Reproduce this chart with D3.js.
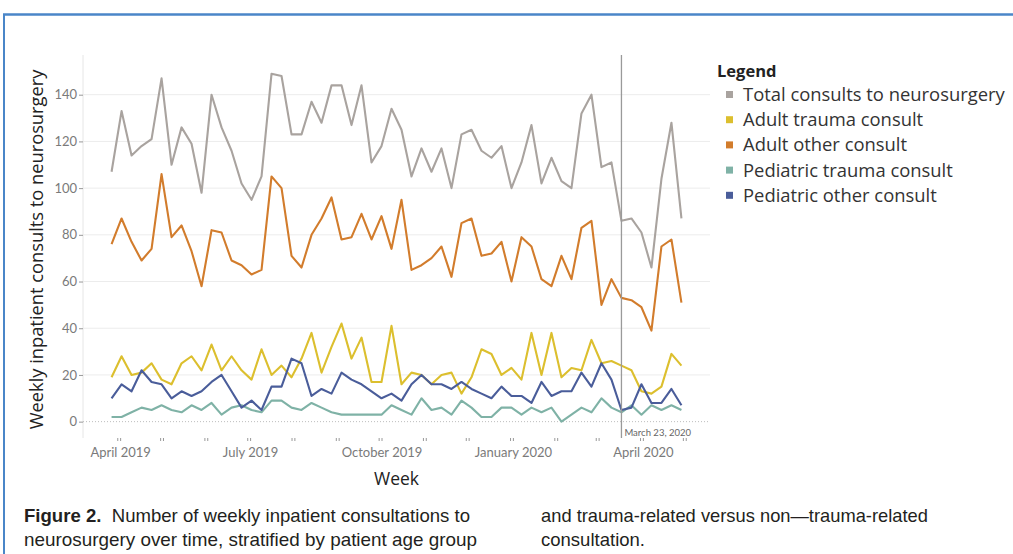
<!DOCTYPE html>
<html>
<head>
<meta charset="utf-8">
<script src="https://cdn.jsdelivr.net/npm/d3@7"></script>
<style>
  body { margin: 0; background: #fff; }
  svg { display: block; }
</style>
</head>
<body>
<div id="chart"></div>
<script>
// weekly consults, weeks starting Monday 1 April 2019
const firstWeek = new Date(2019, 3, 1);
const total       = [107,133,114,118,121,147,110,126,119,98,140,126,116,102,95,105,149,148,123,123,137,128,144,144,127,144,111,118,134,125,105,117,107,117,100,123,125,116,113,118,100,111,127,102,113,103,100,132,140,109,111,86,87,81,66,104,128,87];
const adultTrauma = [19,28,20,21,25,18,16,25,28,22,33,22,28,22,18,31,20,24,19,27,38,21,32,42,27,36,17,17,41,16,21,20,16,20,21,12,19,31,29,20,23,18,38,20,38,19,23,22,35,25,26,24,22,13,12,15,29,24];
const adultOther  = [76,87,77,69,74,106,79,84,73,58,82,81,69,67,63,65,105,100,71,66,80,87,96,78,79,89,78,88,74,95,65,67,70,75,62,85,87,71,72,77,60,79,75,61,58,71,61,83,86,50,61,53,52,49,39,75,78,51];
const pedTrauma   = [2,2,4,6,5,7,5,4,7,5,8,3,6,7,5,4,9,9,6,5,8,6,4,3,3,3,3,3,7,5,3,10,5,6,3,9,6,2,2,6,6,3,6,4,6,0,3,6,4,10,6,4,7,3,7,5,7,5];
const pedOther    = [10,16,13,22,17,16,10,13,11,13,17,20,13,6,9,5,15,15,27,25,11,14,12,21,18,16,13,10,12,9,16,20,16,16,14,17,14,12,10,15,11,11,8,17,11,13,13,21,15,25,18,5,6,16,8,8,14,7];

const seriesNames  = ["Total consults to neurosurgery", "Adult trauma consult", "Adult other consult", "Pediatric trauma consult", "Pediatric other consult"];
const seriesColors = ["#a9a39f", "#dcbf2e", "#d27c2c", "#7fb2a6", "#4a5d9a"];
const yTicks = [0, 20, 40, 60, 80, 100, 120, 140];
const lockdownDate = new Date(2020, 2, 23);
const lockdownLabel = "March 23, 2020";

const weeks = total.map((_, i) => d3.timeDay.offset(firstWeek, 7 * i));
const seriesValues = [total, adultTrauma, adultOther, pedTrauma, pedOther];

const W = 1013, H = 554;
const plot = { left: 83, right: 710, top: 55, bottom: 438 };
const font = "Lato, 'Open Sans', sans-serif";
const titleFont = "'Open Sans', Lato, sans-serif";

const svg = d3.select("#chart").append("svg")
    .attr("width", W)
    .attr("height", H)
    .style("background", "#fff");

// figure frame (blue rule top and left)
svg.append("line").attr("x1", 3).attr("x2", W).attr("y1", 14.5).attr("y2", 14.5)
    .attr("stroke", "#4a86c8").attr("stroke-width", 2.5);
svg.append("line").attr("x1", 4).attr("x2", 4).attr("y1", 14).attr("y2", H)
    .attr("stroke", "#4a86c8").attr("stroke-width", 2);

const x = d3.scaleTime()
    .domain([new Date(2019, 2, 12), new Date(2020, 4, 24)])
    .range([plot.left, plot.right]);

const y = d3.scaleLinear()
    .domain([-7, 157])
    .range([plot.bottom, plot.top]);

// plot frame
svg.append("line").attr("x1", plot.left).attr("x2", plot.left)
    .attr("y1", plot.top).attr("y2", plot.bottom)
    .attr("stroke", "#e6e6e6");

// gridlines
svg.append("g")
    .selectAll("line")
    .data(yTicks.filter(d => d !== 0))
    .enter()
    .append("line")
    .attr("x1", plot.left).attr("x2", plot.right)
    .attr("y1", d => y(d)).attr("y2", d => y(d))
    .attr("stroke", "#ececec");

svg.append("line")
    .attr("x1", plot.left).attr("x2", plot.right)
    .attr("y1", y(0)).attr("y2", y(0))
    .attr("stroke", "#bdbdbd")
    .attr("stroke-dasharray", "1,2");

// y axis
const yAxis = svg.append("g")
    .attr("transform", `translate(${plot.left},0)`)
    .call(d3.axisLeft(y).tickValues(yTicks).tickSize(4).tickPadding(2));
yAxis.select(".domain").remove();
yAxis.selectAll(".tick line").attr("stroke", "#999");
yAxis.selectAll("text")
    .style("font-family", font)
    .style("font-size", "13px")
    .attr("fill", "#7a7a7a");

svg.append("text")
    .attr("transform", `translate(43,${(plot.top + plot.bottom) / 2 + 3}) rotate(-90)`)
    .attr("text-anchor", "middle")
    .style("font-family", titleFont)
    .style("font-size", "18.3px")
    .attr("fill", "#222")
    .text("Weekly inpatient consults to neurosurgery");

// x axis: monthly tick pairs, label every quarter
const months = d3.timeMonth.range(new Date(2019, 3, 1), new Date(2020, 5, 1));
const xTickA = svg.append("g")
    .attr("transform", `translate(0,${plot.bottom})`)
    .call(d3.axisBottom(x).tickValues(months.map(d => d3.timeDay.offset(d, 4))).tickSize(3).tickFormat(""));
xTickA.select(".domain").remove();
const xAxis = svg.append("g")
    .attr("transform", `translate(0,${plot.bottom})`)
    .call(d3.axisBottom(x)
        .tickValues(months.map(d => d3.timeDay.offset(d, 6)))
        .tickSize(3)
        .tickPadding(7)
        .tickFormat(d => [3, 6, 9, 0].includes(d.getMonth()) ? d3.timeFormat("%B %Y")(d) : ""));
xAxis.select(".domain").remove();
svg.selectAll(".tick line").attr("stroke", "#999");
xAxis.selectAll("text")
    .style("font-family", font)
    .style("font-size", "13px")
    .attr("fill", "#7a7a7a");

svg.append("text")
    .attr("x", (plot.left + plot.right) / 2)
    .attr("y", 485)
    .attr("text-anchor", "middle")
    .style("font-family", titleFont)
    .style("font-size", "17.5px")
    .attr("fill", "#222")
    .text("Week");

// lines
const line = d3.line()
    .x((d, i) => x(weeks[i]))
    .y(d => y(d));

svg.append("g")
    .selectAll("path")
    .data(seriesValues)
    .enter()
    .append("path")
    .attr("d", d => line(d))
    .attr("fill", "none")
    .attr("stroke", (d, i) => seriesColors[i])
    .attr("stroke-width", 2.1)
    .attr("stroke-linejoin", "round");

// reference line
svg.append("line")
    .attr("x1", x(lockdownDate)).attr("x2", x(lockdownDate))
    .attr("y1", plot.top).attr("y2", plot.bottom)
    .attr("stroke", "#9a9a9a")
    .attr("stroke-width", 1.3);
svg.append("text")
    .attr("x", x(lockdownDate) + 3)
    .attr("y", 436)
    .style("font-family", font)
    .style("font-size", "9.5px")
    .attr("fill", "#666")
    .text(lockdownLabel);

// legend
const legend = svg.append("g").attr("transform", "translate(717,0)");
legend.append("text")
    .attr("x", 0).attr("y", 77)
    .style("font-family", titleFont)
    .style("font-size", "16.5px")
    .style("font-weight", "bold")
    .attr("fill", "#222")
    .text("Legend");
const items = legend.selectAll("g.item")
    .data(seriesNames)
    .enter()
    .append("g")
    .attr("class", "item")
    .attr("transform", (d, i) => `translate(0,${95 + i * 25.2})`);
items.append("rect")
    .attr("x", 9).attr("y", -4)
    .attr("width", 7).attr("height", 7)
    .attr("fill", (d, i) => seriesColors[i]);
items.append("text")
    .attr("x", 26).attr("y", 6)
    .style("font-family", titleFont)
    .style("font-size", "18.4px")
    .attr("fill", "#333")
    .text(d => d);

// caption
const capFont = "'Liberation Sans Narrow', 'Liberation Sans', Arial, sans-serif";
const cap = svg.append("g")
    .style("font-family", capFont)
    .style("font-size", "19px")
    .attr("fill", "#231f20");
const c1 = cap.append("text").attr("x", 24).attr("y", 522)
    .attr("textLength", 446).attr("lengthAdjust", "spacingAndGlyphs");
c1.append("tspan").style("font-weight", "bold").text("Figure 2.");
c1.append("tspan").text("\u00a0 Number of weekly inpatient consultations to");
cap.append("text").attr("x", 24).attr("y", 546)
    .attr("textLength", 453).attr("lengthAdjust", "spacingAndGlyphs")
    .text("neurosurgery over time, stratified by patient age group");
cap.append("text").attr("x", 541).attr("y", 522)
    .attr("textLength", 387).attr("lengthAdjust", "spacingAndGlyphs")
    .text("and trauma-related versus non\u2014trauma-related");
cap.append("text").attr("x", 541).attr("y", 546)
    .attr("textLength", 104).attr("lengthAdjust", "spacingAndGlyphs")
    .text("consultation.");
</script>
</body>
</html>
